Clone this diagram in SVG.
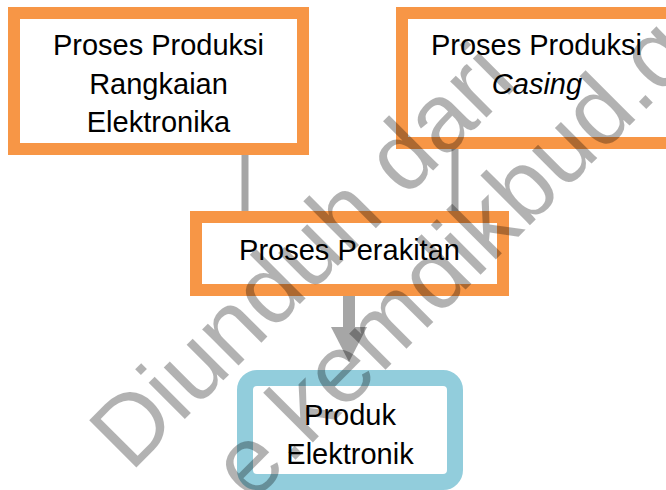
<svg xmlns="http://www.w3.org/2000/svg" width="666" height="490" viewBox="0 0 666 490">
  <style>
    .box { fill: #ffffff; stroke: #F79646; stroke-width: 12; }
    .prod { fill: #ffffff; stroke: #92CDDC; stroke-width: 16; }
    .lbl { font-family: "Liberation Sans", Arial, sans-serif; font-size: 29px; fill: #000000; text-anchor: middle; }
    .link { stroke: #A6A6A6; stroke-width: 7; fill: none; }
    .flow { stroke: #A6A6A6; stroke-width: 12; fill: none; }
    .mark { font-family: "Liberation Sans", Arial, sans-serif; font-size: 97px; fill: #000000; fill-opacity: 0.3; }
  </style>
  <defs>
    <marker id="head" markerUnits="userSpaceOnUse" markerWidth="36" markerHeight="36" refX="0" refY="18" orient="auto">
      <path d="M0,0 L35,18 L0,36 Z" fill="#A6A6A6"/>
    </marker>
  </defs>

  <rect width="666" height="490" fill="#ffffff"/>

  <g id="connectors">
    <line class="link" x1="245" y1="155" x2="245" y2="212"/>
    <line class="link" x1="455" y1="149" x2="455" y2="212"/>
    <line class="flow" x1="349" y1="296" x2="349" y2="327" marker-end="url(#head)"/>
  </g>

  <g id="rangkaian">
    <rect class="box" x="14" y="13" width="289" height="136"/>
    <text class="lbl" x="158.5" y="55">Proses Produksi</text>
    <text class="lbl" x="158.5" y="93.5">Rangkaian</text>
    <text class="lbl" x="158.5" y="132">Elektronika</text>
  </g>

  <g id="casing">
    <rect class="box" x="402" y="13" width="300" height="130"/>
    <text class="lbl" x="536.5" y="55">Proses Produksi</text>
    <text class="lbl" x="537" y="93.5" font-style="italic">Casing</text>
  </g>

  <g id="perakitan">
    <rect class="box" x="196" y="217" width="307" height="73"/>
    <text class="lbl" x="349.5" y="259.5">Proses Perakitan</text>
  </g>

  <g id="produk">
    <rect class="prod" x="245" y="378" width="210" height="104" rx="12" ry="12"/>
    <text class="lbl" x="350" y="424.5">Produk</text>
    <text class="lbl" x="350" y="463.5">Elektronik</text>
  </g>

  <g id="watermark" transform="rotate(-45)">
    <text class="mark" x="-242" y="427">Diunduh dari</text>
    <text class="mark" x="-179" y="534">e.kemdikbud.go.id</text>
  </g>
</svg>
